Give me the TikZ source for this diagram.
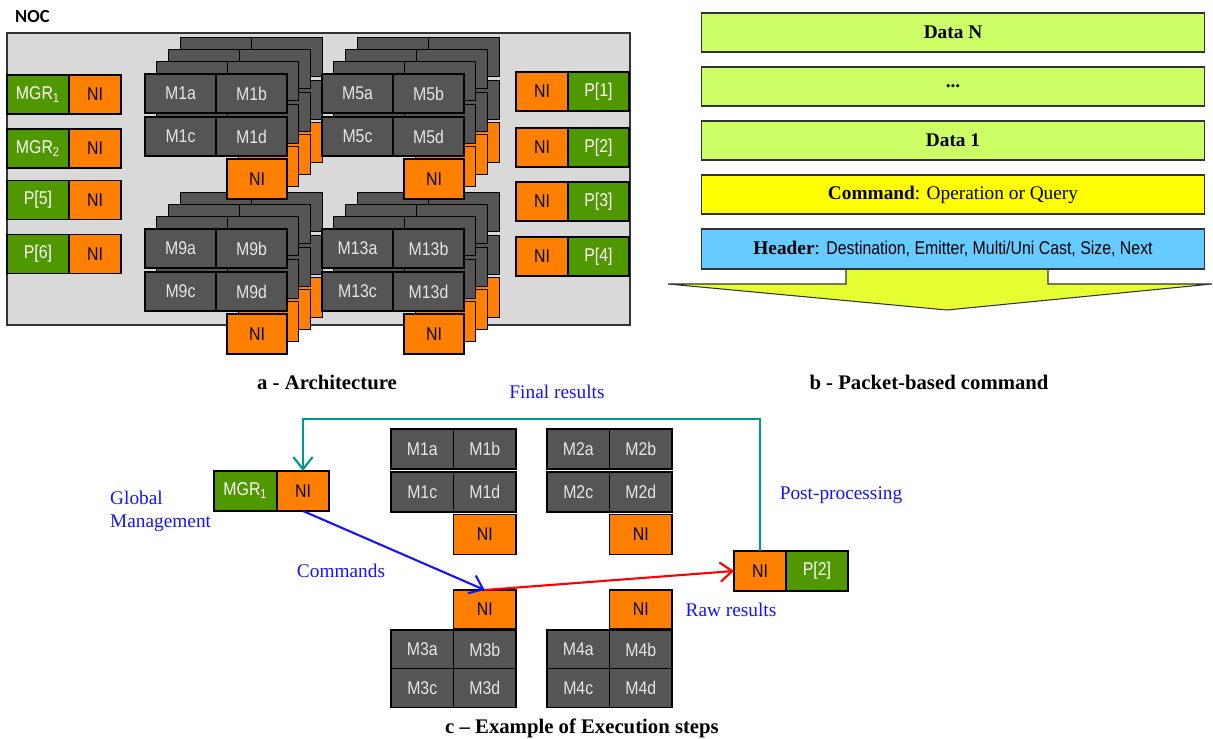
\documentclass[tikz,border=0pt]{standalone}
\usepackage{fontspec}
\setmainfont{Liberation Serif}
\newfontfamily\arialf[FakeStretch=0.86]{Liberation Sans}
\newfontfamily\calib{Carlito}
\usetikzlibrary{arrows.meta,positioning}

\definecolor{nocgray}{RGB}{217,217,217}
\definecolor{modgray}{RGB}{85,85,85}
\definecolor{niorange}{RGB}{255,128,0}
\definecolor{pegreen}{RGB}{79,152,0}
\definecolor{datagreen}{RGB}{204,255,102}
\definecolor{cmdyellow}{RGB}{255,255,0}
\definecolor{hdrblue}{RGB}{102,204,255}
\definecolor{arrowyellow}{RGB}{230,255,51}
\definecolor{fbteal}{RGB}{0,150,150}
\definecolor{lblblue}{RGB}{20,20,255}

\tikzset{
  box/.style={draw=black, line width=0.6pt, inner sep=0pt, outer sep=0pt,
    font=\arialf\fontsize{10.5}{12}\selectfont},
  mod/.style={box, fill=modgray, text=white!90!black},
  ni/.style={box, fill=niorange, text=black},
  pe/.style={box, fill=pegreen, text=white},
  cellT/.style={minimum width=1.42cm, minimum height=0.78cm},
  niT/.style={minimum width=1.2cm, minimum height=0.8cm},
  cellC/.style={minimum width=1.25cm, minimum height=0.78cm},
  pkt/.style={draw=black!80, line width=0.6pt, inner sep=0pt,
    minimum width=10.08cm, minimum height=0.78cm, font=\fontsize{11}{13}\selectfont},
  lbl/.style={text=lblblue, font=\fontsize{11}{13}\selectfont},
  caption/.style={font=\bfseries\fontsize{11.8}{14}\selectfont},
  flow/.style={line width=1.2pt, -{Straight Barb[length=7pt,width=11pt]}},
}

% one layer of a memory stack: 2x2 cells and its NI
\newcommand{\mlayer}[6]{%
  \node[mod, cellT] (#1a) at (35.5,19.5) {#2};
  \node[mod, cellT] (#1b) at (106.5,19.5) {#3};
  \node[mod, cellT] (#1c) at (35.5,62.5) {#4};
  \node[mod, cellT] (#1d) at (106.5,62.5) {#5};
  \node[ni, niT] (#1ni) at (112,105) {#6};
}
% stack of four layers, front one labelled
\newcommand{\mstack}[3]{%
  \foreach \k in {3,2,1}{
    \begin{scope}[shift={({#2+11.7*\k},{#3-12.3*\k})}]
      \mlayer{M#1L\k}{}{}{}{}{}
    \end{scope}}
  \begin{scope}[shift={(#2,#3)}]
    \mlayer{M#1}{M#1a}{M#1b}{M#1c}{M#1d}{NI}
  \end{scope}}

\begin{document}
\begin{tikzpicture}[x=0.02cm, y=-0.02cm]
  \useasboundingbox (0,0) rectangle (1213,739);

  % a - architecture
  \node[font=\calib\bfseries\fontsize{10.5}{12}\selectfont, anchor=west] (noclbl) at (9,17) {NOC};
  \draw[fill=nocgray, draw=black!80, line width=0.6pt] (7,33) rectangle (630,325);
  \mstack{9}{145}{229}
  \mstack{13}{322}{229}
  \mstack{1}{145}{74}
  \mstack{5}{322}{74}

  \foreach \lab/\yy/\nm in {MGR\textsubscript{1}/94.5/mgrA, MGR\textsubscript{2}/148.5/mgrB,
      P[5]/200/pFive, P[6]/254/pSix}{
    \node[pe, minimum width=1.24cm, minimum height=0.78cm] (\nm) at (38,\yy) {\lab};
    \node[ni, minimum width=1.04cm, minimum height=0.78cm, right=0pt of \nm] (\nm ni) {NI};
  }
  \foreach \i/\yy in {1/91.5, 2/147.5, 3/201.5, 4/256.5}{
    \node[ni, minimum width=1.04cm, minimum height=0.78cm] (rni\i) at (542,\yy) {NI};
    \node[pe, minimum width=1.22cm, minimum height=0.78cm, right=0pt of rni\i] (p\i) {P[\i]};
  }
  \node[caption] (capA) at (327,382) {a - Architecture};

  % b - packet
  \draw[fill=arrowyellow, draw=black!80, line width=0.6pt] (846,269) -- (846,284) -- (668,284)
    -- (947,310) -- (1212,284) -- (1048,284) -- (1048,269) -- cycle;
  \node[pkt, fill=datagreen] (dataN) at (953,32.5) {\textbf{Data N}};
  \node[pkt, fill=datagreen] (dots) at (953,86.5) {\textbf{...}};
  \node[pkt, fill=datagreen] (dataA) at (953,140.5) {\textbf{Data 1}};
  \node[pkt, fill=cmdyellow] (cmd) at (953,194.5) {\textbf{Command}: Operation or Query};
  \node[pkt, fill=hdrblue, minimum height=0.8cm] (hdr) at (953,249)
    {\textbf{Header}: {\arialf\fontsize{10.5}{12}\selectfont Destination, Emitter, Multi/Uni Cast, Size, Next}};
  \node[caption] (capB) at (929,382) {b - Packet-based command};

  % c - execution steps
  \node[pe, minimum width=1.26cm, minimum height=0.8cm] (cmgr) at (245.5,491) {MGR\textsubscript{1}};
  \node[ni, minimum width=1.04cm, minimum height=0.8cm, right=0pt of cmgr] (cmgrni) {NI};
  \foreach \g/\gx in {1/391, 2/547}{
    \node[mod, cellC, minimum height=0.8cm] (C\g a) at (\gx+31.25,449) {M\g a};
    \node[mod, cellC, minimum height=0.8cm] (C\g b) at (\gx+93.75,449) {M\g b};
    \node[mod, cellC, minimum height=0.8cm] (C\g c) at (\gx+31.25,492) {M\g c};
    \node[mod, cellC, minimum height=0.8cm] (C\g d) at (\gx+93.75,492) {M\g d};
    \node[ni, cellC, minimum height=0.8cm] (C\g ni) at (\gx+93.75,534.5) {NI};
  }
  \foreach \g/\gx in {3/391, 4/547}{
    \node[ni, cellC] (C\g ni) at (\gx+93.75,609.5) {NI};
    \node[mod, cellC] (C\g a) at (\gx+31.25,649.5) {M\g a};
    \node[mod, cellC] (C\g b) at (\gx+93.75,649.5) {M\g b};
    \node[mod, cellC] (C\g c) at (\gx+31.25,688) {M\g c};
    \node[mod, cellC] (C\g d) at (\gx+93.75,688) {M\g d};
  }
  \node[ni, minimum width=1.04cm, minimum height=0.8cm] (cpni) at (760,571) {NI};
  \node[pe, minimum width=1.24cm, minimum height=0.8cm, right=0pt of cpni] (cp) {P[2]};

  \draw[flow, fbteal] (cpni.north) -- ++(0,-132) -| (cmgrni.north);
  \draw[flow, lblblue] (cmgrni.south) -- (C3ni.north);
  \draw[flow, red] (C3ni.north) -- (cpni.west);

  \node[lbl] (lfinal) at (557,392) {Final results};
  \node[lbl, align=left, anchor=west] (lglobal) at (104,511) {Global\\Management};
  \node[lbl] (lcmd) at (341,571) {Commands};
  \node[lbl] (lpost) at (841,495) {Post-processing};
  \node[lbl] (lraw) at (731,610) {Raw results};
  \node[caption] (capC) at (582,728) {c -- Example of Execution steps};
\end{tikzpicture}
\end{document}
